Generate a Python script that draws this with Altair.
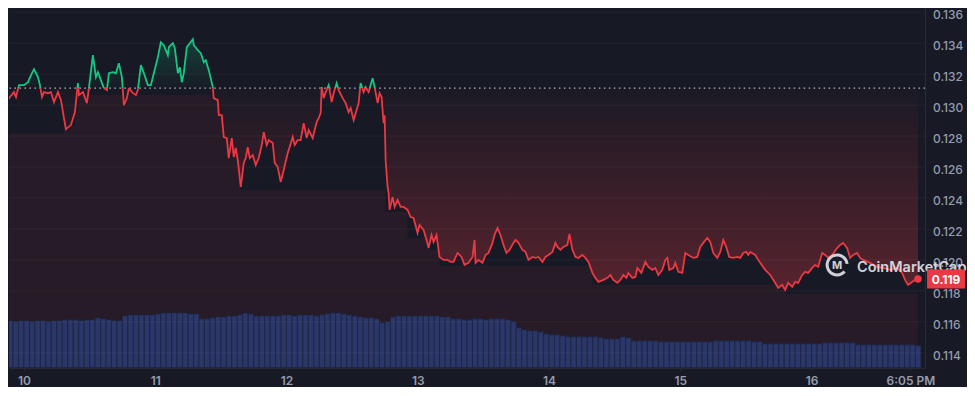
import altair as alt
import pandas as pd

# ---------------- data ----------------
# hours since day 10, 00:00
hours = [
    -4.20, -3.65, -3.47, -2.74, -1.83, -1.46, -0.91, 0.00, 0.73, 1.28, 1.83, 2.56, 2.92, 3.29, 3.65, 4.38, 4.93, 5.48, 6.21, 6.76,
    7.31, 7.67, 8.58, 9.32, 9.86, 10.05, 10.78, 11.51, 11.87, 12.60, 13.15, 13.52, 14.06, 14.61, 15.16, 15.52, 16.25, 16.80, 17.35, 17.90,
    18.27, 18.81, 19.18, 19.91, 20.46, 20.82, 21.37, 21.92, 22.65, 23.20,
    23.74, 24.48, 25.02, 25.57, 26.30, 26.48, 27.21, 27.58, 28.13, 28.49, 28.86, 29.22, 29.77, 30.32, 30.87, 31.05, 31.78, 32.33, 32.88, 33.24,
    33.79, 34.52, 34.70, 35.43, 35.62, 36.16, 36.53, 37.08, 37.44, 37.99, 38.36, 38.72, 39.09, 39.64, 40.18, 40.55, 40.91, 41.28, 41.83, 42.37,
    42.92, 43.47, 43.84, 44.38, 44.75, 45.48, 45.85, 46.39, 46.94, 47.49, 48.22, 48.58, 49.13, 49.50, 50.05,
    50.59, 51.14, 51.69, 52.06, 52.79, 53.15, 53.52, 53.88, 54.25, 54.43, 54.80, 55.16, 55.71, 56.26, 56.62, 57.17, 57.53, 58.27, 58.81, 59.36,
    59.73, 60.27, 60.64, 61.19, 61.55, 62.10, 62.47, 63.01, 63.74, 64.11, 64.66, 65.02, 65.39, 65.75, 65.94, 66.12, 66.48, 66.67, 66.85, 67.40,
    67.76, 68.31, 68.86, 69.41, 70.14, 70.69, 71.23, 71.96, 72.33, 73.06, 73.61, 73.97, 74.52, 74.89, 75.43, 75.98, 76.71, 77.44,
    77.99, 78.54, 79.27, 80.00, 80.55, 81.28, 82.01, 82.38, 82.56, 83.11, 83.84, 84.39, 84.93, 85.66, 86.03, 86.58, 87.12, 87.67, 88.22, 88.77,
    89.50, 89.86, 90.41, 91.14, 91.69, 92.24, 92.97, 93.52, 94.06, 94.80, 95.34, 95.89, 96.62, 97.17, 97.54, 98.08, 98.63, 99.36, 99.73, 100.28,
    100.83, 101.37, 102.10, 102.65, 103.20, 103.93, 104.48, 105.02,
    105.94, 106.67, 107.22, 107.76, 108.49, 109.04, 109.59, 110.14, 110.50, 111.23, 111.78, 112.15, 112.88, 113.61, 114.16, 114.89, 115.43, 115.98, 116.71, 117.26,
    117.63, 117.99, 118.72, 119.09, 119.64, 120.37, 120.91, 121.46, 122.38, 123.11, 123.65, 124.20, 124.93, 125.48, 126.03, 126.76, 127.31, 127.86, 128.40, 128.95,
    129.68, 130.41, 130.96, 131.51, 132.06, 132.42,
    132.79, 133.70, 134.61, 135.53, 136.44, 137.35, 137.90, 138.63, 139.18, 139.73, 140.46, 141.01, 141.55, 142.28, 142.83, 143.38, 144.11, 144.66, 145.21, 145.94,
    146.49, 147.03, 147.76, 148.68, 149.23, 149.77, 150.50, 151.05, 151.60, 152.33, 152.88, 153.43, 154.71, 155.99, 157.08, 158.36, 159.64, 160.55, 161.10, 161.65,
    162.38, 162.93, 163.47,
]
price = [
    0.13084, 0.13019, 0.12987, 0.13045, 0.13084, 0.13052, 0.13129, 0.13129, 0.13148, 0.13194, 0.13232, 0.13181, 0.13129, 0.13052, 0.13084, 0.13077, 0.13084, 0.13019, 0.13084, 0.13032,
    0.12916, 0.12845, 0.12871, 0.12955, 0.13142, 0.13065, 0.13084, 0.13013, 0.13110, 0.13323, 0.13181, 0.13213, 0.13161, 0.13110, 0.13097, 0.13206, 0.13213, 0.13206, 0.13271, 0.13181,
    0.13000, 0.13045, 0.13110, 0.13077, 0.13065, 0.13097, 0.13258, 0.13206, 0.13129, 0.13129,
    0.13206, 0.13310, 0.13406, 0.13387, 0.13323, 0.13374, 0.13400, 0.13368, 0.13206, 0.13245, 0.13148, 0.13206, 0.13374, 0.13400, 0.13426, 0.13387, 0.13355, 0.13335, 0.13277, 0.13290,
    0.13226, 0.13116, 0.13045, 0.13032, 0.12935, 0.12935, 0.12794, 0.12787, 0.12658, 0.12787, 0.12665, 0.12723, 0.12645, 0.12471, 0.12626, 0.12658, 0.12729, 0.12658, 0.12677, 0.12613,
    0.12658, 0.12742, 0.12826, 0.12742, 0.12774, 0.12755, 0.12626, 0.12600, 0.12503, 0.12581, 0.12690, 0.12729, 0.12794, 0.12742, 0.12774,
    0.12774, 0.12884, 0.12787, 0.12839, 0.12787, 0.12839, 0.12890, 0.12916, 0.12948, 0.13116, 0.13045, 0.13084, 0.13129, 0.13019, 0.13077, 0.13142, 0.13097, 0.13045, 0.13013, 0.12955,
    0.12981, 0.12903, 0.12948, 0.13013, 0.13142, 0.13084, 0.13116, 0.13084, 0.13174, 0.13116, 0.13013, 0.13077, 0.13052, 0.12884, 0.12935, 0.12645, 0.12471, 0.12432, 0.12323, 0.12406,
    0.12342, 0.12387, 0.12342, 0.12342, 0.12323, 0.12277, 0.12271, 0.12174, 0.12226, 0.12194, 0.12129, 0.12077, 0.12161, 0.12116, 0.12161, 0.12019, 0.12000, 0.12000,
    0.11987, 0.11987, 0.12045, 0.12019, 0.11968, 0.11981, 0.12019, 0.12129, 0.11981, 0.12000, 0.11981, 0.12032, 0.12045, 0.12110, 0.12161, 0.12206, 0.12161, 0.12097, 0.12045, 0.12065,
    0.12110, 0.12129, 0.12110, 0.12065, 0.12052, 0.12000, 0.12019, 0.12013, 0.12019, 0.11987, 0.12019, 0.12032, 0.12052, 0.12110, 0.12084, 0.12065, 0.12084, 0.12097, 0.12168, 0.12065,
    0.12019, 0.12013, 0.12032, 0.12013, 0.11987, 0.11916, 0.11884, 0.11858,
    0.11871, 0.11884, 0.11903, 0.11871, 0.11852, 0.11871, 0.11903, 0.11884, 0.11916, 0.11884, 0.11890, 0.11948, 0.11916, 0.11987, 0.11955, 0.11936, 0.11948, 0.11903, 0.11936, 0.12000,
    0.12013, 0.11936, 0.11948, 0.11981, 0.11923, 0.11916, 0.12045, 0.12032, 0.12013, 0.12019, 0.12084, 0.12110, 0.12142, 0.12116, 0.12045, 0.12013, 0.12052, 0.12129, 0.12084, 0.12019,
    0.12013, 0.12019, 0.12013, 0.12045, 0.12052, 0.12032,
    0.12052, 0.12032, 0.11981, 0.11936, 0.11903, 0.11852, 0.11819, 0.11839, 0.11806, 0.11852, 0.11826, 0.11858, 0.11852, 0.11903, 0.11923, 0.11916, 0.11948, 0.11968, 0.11955, 0.12045,
    0.12032, 0.12013, 0.12032, 0.12077, 0.12097, 0.12110, 0.12077, 0.12013, 0.12032, 0.12045, 0.12013, 0.12000, 0.11981, 0.11955, 0.11948, 0.11936, 0.11948, 0.11916, 0.11871, 0.11839,
    0.11858, 0.11871, 0.11877,
]

# hourly volume (arbitrary units), first bar at hour -4
vol_start_hour = -4
volume = [
    4.7, 4.7, 4.6, 4.7,
    4.7, 4.6, 4.7, 4.7, 4.6, 4.7, 4.7, 4.8,
    4.8, 4.8, 4.7, 4.8, 4.8, 5.0, 4.9, 4.8, 4.7, 4.7,
    5.2, 5.3, 5.3, 5.3, 5.3, 5.3, 5.4,
    5.5, 5.5, 5.5, 5.5, 5.5, 5.4, 5.4,
    4.9, 4.9, 5.0, 5.1, 5.1, 5.2, 5.2, 5.3, 5.5, 5.4,
    5.2, 5.2, 5.2, 5.2, 5.2,
    5.3, 5.3, 5.2, 5.3, 5.3, 5.3, 5.2, 5.3,
    5.4, 5.5, 5.5, 5.4, 5.3, 5.2, 5.1, 5.0, 5.0, 4.9, 4.5, 4.6, 5.1, 5.2,
    5.2, 5.2, 5.2, 5.2, 5.2, 5.2, 5.2, 5.1, 5.1,
    4.9, 4.9, 4.8, 4.8, 4.9, 4.9, 4.8, 4.9, 4.9, 4.9, 4.8,
    4.6, 4.0, 3.8, 3.7, 3.7, 3.6, 3.4, 3.3, 3.3,
    3.2, 3.1, 3.1, 3.1, 3.1, 3.1, 3.1, 3.0, 2.9, 2.9, 2.9, 3.1, 3.0,
    2.7, 2.7, 2.7, 2.7, 2.7, 2.6, 2.6,
    2.6, 2.6, 2.6, 2.6, 2.6, 2.6, 2.6, 2.6,
    2.7, 2.7, 2.7, 2.7, 2.7, 2.7, 2.7, 2.6, 2.6,
    2.4, 2.4, 2.4, 2.4, 2.4, 2.4, 2.4, 2.4, 2.4, 2.4, 2.4,
    2.5, 2.5, 2.5, 2.5, 2.5, 2.5,
    2.3, 2.3, 2.3, 2.3, 2.3, 2.3, 2.3, 2.3, 2.3, 2.3, 2.3, 2.2,
]

# lower edge of the dark band drawn right under the line (piecewise)
floor_start = [-4.20, 7.31, 39.64, 66.12, 70.14, 73.42, 75.80, 103.56, 139.18]
floor_level = [0.12819, 0.13065, 0.12452, 0.12310, 0.12142, 0.12065, 0.11961, 0.11839, 0.11781]

baseline = 0.13110
last_label = "0.119"
y_ticks = [0.114, 0.116, 0.118, 0.120, 0.122, 0.124, 0.126, 0.128, 0.130, 0.132, 0.134, 0.136]
y_tick_labels = ["0.114", "0.116", "0.118", "0.120", "0.122", "0.124", "0.126", "0.128", "0.130", "0.132", "0.134", "0.136"]
x_tick_hours = [0, 24, 48, 72, 96, 120, 144, 162.08]
x_tick_labels = ["10", "11", "12", "13", "14", "15", "16", "6:05 PM"]
watermark = "CoinMarketCap"

# ---------------- styling ----------------
BG = "#171924"
GREEN = "#16c784"
RED = "#ea3943"
AXIS_TXT = "#959cae"
W, H = 917, 360
X_DOMAIN = [-2.74, 164.75]
Y_DOMAIN = [0.11303, 0.13626]
VOL_DOMAIN = [0, 36]

# ---------------- build tables ----------------
assert len(hours) == len(price)
rows = []
seg = 0
for i, (h, p) in enumerate(zip(hours, price)):
    side = "up" if p >= baseline else "down"
    if i > 0:
        h0, p0 = hours[i - 1], price[i - 1]
        side0 = "up" if p0 >= baseline else "down"
        if side != side0:
            t = (baseline - p0) / (p - p0)
            hc = h0 + t * (h - h0)
            rows.append(dict(h=hc, p=baseline, side=side0, seg=seg))
            seg += 1
            rows.append(dict(h=hc, p=baseline, side=side, seg=seg))
    rows.append(dict(h=h, p=p, side=side, seg=seg))
line_df = pd.DataFrame(rows)

area_df = line_df.drop_duplicates(subset=["h", "p"]).sort_values("h").reset_index(drop=True)


def floor_at(h):
    lvl = floor_level[0]
    for s, l in zip(floor_start, floor_level):
        if h >= s:
            lvl = l
    return lvl


area_df["base"] = baseline
area_df["pmin"] = area_df["p"].clip(upper=baseline)
area_df["pmax"] = area_df["p"].clip(lower=baseline)
area_df["floor"] = area_df["h"].map(floor_at)
area_df["red_top"] = area_df[["pmin", "floor"]].min(axis=1)
area_df["bottom"] = Y_DOMAIN[0]

vol_df = pd.DataFrame({
    "vh": [vol_start_hour + i for i in range(len(volume))],
    "v": volume,
})
vol_df["vh2"] = vol_df["vh"] + 1
vol_df["v0"] = 0.0

last_df = pd.DataFrame({"h": [hours[-1]], "p": [price[-1]], "lbl": [last_label]})
grid_df = pd.DataFrame({"y": y_ticks, "lbl": y_tick_labels})
base_df = pd.DataFrame({"y": [baseline]})
wm_df = pd.DataFrame({"t": [watermark]})

label_expr = " : ".join(
    f"datum.value == {v} ? '{l}'" for v, l in zip(x_tick_hours, x_tick_labels)
) + " : ''"

xs = alt.Scale(domain=X_DOMAIN, nice=False, zero=False)
ys = alt.Scale(domain=Y_DOMAIN, nice=False, zero=False)

x_axis = alt.Axis(
    values=x_tick_hours, labelExpr=label_expr, grid=False, domainColor="#2a2e39",
    tickColor="#2a2e39", tickSize=3, labelColor=AXIS_TXT, labelFont="Inter",
    labelFontSize=12, labelFontWeight=600, labelPadding=5, title=None,
    labelFlush=False, labelOverlap=False,
)
y_axis = alt.Axis(
    orient="right", values=y_ticks, grid=False, ticks=False, labels=False,
    domainColor="#2a2e39", title=None,
)

X = lambda f: alt.X(f, scale=xs, title=None)

# ---------------- layers ----------------
red_floor_fill = alt.Chart(area_df).mark_area(
    color="rgba(234,57,67,0.075)", clip=True, interpolate="step-after"
).encode(
    x=alt.X("h:Q", scale=xs, axis=x_axis),
    y=alt.Y("red_top:Q", scale=ys, axis=y_axis),
    y2="bottom:Q",
)

red_grad = alt.Chart(area_df).mark_area(
    clip=True,
    color=alt.Gradient(
        gradient="linear",
        stops=[
            alt.GradientStop(color="rgba(234,57,67,0.02)", offset=0),
            alt.GradientStop(color="rgba(234,57,67,0.30)", offset=1),
        ],
        x1=0, x2=0, y1=0, y2=1,
    ),
).encode(
    x=X("h:Q"),
    y=alt.Y("pmin:Q", scale=ys),
    y2="base:Q",
)

green_grad = alt.Chart(area_df).mark_area(
    clip=True,
    color=alt.Gradient(
        gradient="linear",
        stops=[
            alt.GradientStop(color="rgba(22,199,132,0.22)", offset=0),
            alt.GradientStop(color="rgba(22,199,132,0.02)", offset=1),
        ],
        x1=0, x2=0, y1=0, y2=1,
    ),
).encode(
    x=X("h:Q"),
    y=alt.Y("pmax:Q", scale=ys),
    y2="base:Q",
)

fills = alt.layer(red_floor_fill, red_grad, green_grad)

vol_bars = alt.Chart(vol_df).mark_rect(
    clip=True, color="#2b3768", stroke="#1d2443", strokeWidth=0.8
).encode(
    x=X("vh:Q"),
    x2="vh2:Q",
    y=alt.Y("v:Q", scale=alt.Scale(domain=VOL_DOMAIN), axis=None),
    y2="v0:Q",
)

grid = alt.Chart(grid_df).mark_rule(color="rgba(255,255,255,0.05)", strokeWidth=1).encode(
    y=alt.Y("y:Q", scale=ys, axis=None)
)

y_labels = alt.Chart(grid_df).mark_text(
    align="left", baseline="middle", font="Inter", fontSize=12, fontWeight=500, color=AXIS_TXT, dy=3
).encode(
    x=alt.value(W + 8),
    y=alt.Y("y:Q", scale=ys, axis=None),
    text="lbl:N",
)

base_rule = alt.Chart(base_df).mark_rule(
    color="#b4b8c4", strokeDash=[1.5, 3.5], strokeWidth=1.3
).encode(y=alt.Y("y:Q", scale=ys, axis=None))

price_line = alt.Chart(line_df).mark_line(strokeWidth=1.8, clip=True).encode(
    x=X("h:Q"),
    y=alt.Y("p:Q", scale=ys, axis=None),
    color=alt.Color("side:N", scale=alt.Scale(domain=["up", "down"], range=[GREEN, RED]), legend=None),
    detail="seg:N",
    order=alt.Order("h:Q"),
)

end_dot = alt.Chart(last_df).mark_point(filled=True, size=55, color=RED, opacity=1).encode(
    x=X("h:Q"),
    y=alt.Y("p:Q", scale=ys, axis=None),
)

wm_ring = alt.Chart(wm_df).mark_arc(
    theta=2.3, theta2=7.75, innerRadius=8.5, outerRadius=11.5, color="#e4e6ec", opacity=0.9
).encode(x=alt.value(829), y=alt.value(257))
wm_m = alt.Chart(wm_df).mark_text(
    text="M", font="Inter", fontSize=11, fontWeight="bold", color="#e4e6ec", opacity=0.9,
    align="center", baseline="middle"
).encode(x=alt.value(829), y=alt.value(258))
wm_text = alt.Chart(wm_df).mark_text(
    font="Inter", fontSize=14.5, fontWeight=600, color="#e4e6ec", opacity=0.9,
    align="left", baseline="alphabetic"
).encode(x=alt.value(849), y=alt.value(264), text="t:N")

badge = alt.Chart(last_df).mark_point(
    shape="M-1,-0.5L1,-0.5L1,0.5L-1,0.5Z", size=1444, filled=True, color=RED, opacity=1, strokeWidth=0
).encode(
    x=alt.value(W + 21),
    y=alt.Y("p:Q", scale=ys, axis=None),
)
badge_txt = alt.Chart(last_df).mark_text(
    color="white", font="Inter", fontSize=12, fontWeight="bold", align="center", baseline="middle", dy=1
).encode(
    x=alt.value(W + 21),
    y=alt.Y("p:Q", scale=ys, axis=None),
    text="lbl:N",
)

top = alt.layer(grid, y_labels, base_rule, price_line, end_dot, wm_ring, wm_m, wm_text, badge, badge_txt)

chart = alt.layer(fills, vol_bars, top).resolve_scale(y="independent").properties(
    width=W, height=H, padding=0, background=BG
).configure_view(stroke=None)

chart.save("out.html", embed_options={"renderer": "svg", "actions": False})
